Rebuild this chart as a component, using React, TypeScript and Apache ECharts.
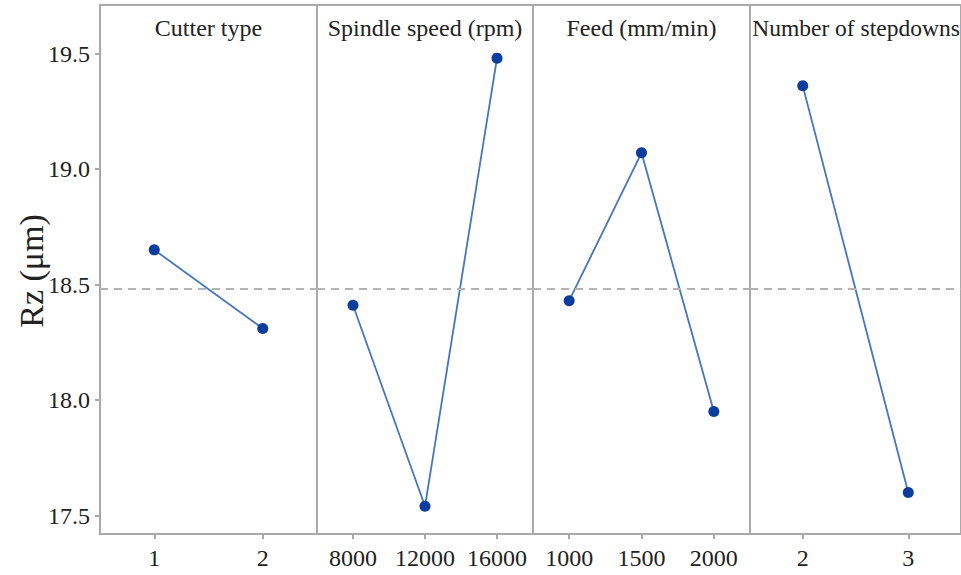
import React, { useEffect, useRef } from "react";
import * as echarts from "echarts";

const panelTitles = ["Cutter type", "Spindle speed (rpm)", "Feed (mm/min)", "Number of stepdowns"];
const cutterLevels = ["1", "2"];
const cutterRz = [18.65, 18.31];
const spindleLevels = ["8000", "12000", "16000"];
const spindleRz = [18.41, 17.54, 19.48];
const feedLevels = ["1000", "1500", "2000"];
const feedRz = [18.43, 19.07, 17.95];
const stepLevels = ["2", "3"];
const stepRz = [19.36, 17.6];
const yTicks = [17.5, 18.0, 18.5, 19.0, 19.5];
const grandMean = 18.48;

const levelsList = [cutterLevels, spindleLevels, feedLevels, stepLevels];
const valuesList = [cutterRz, spindleRz, feedRz, stepRz];

const gridLefts = [100, 317, 533, 750];
const gridWidths = [217, 216, 217, 217];
const FONT = "'Liberation Serif', 'Times New Roman', serif";
const BORDER = "#a9a9a9";

export default function App() {
  const ref = useRef<HTMLDivElement>(null);
  useEffect(() => {
    document.body.style.margin = "0";
    const chart = echarts.init(ref.current!, null, { renderer: "svg" });
    const grids = gridLefts.map((l, i) => ({
      left: l,
      top: 5,
      width: gridWidths[i],
      height: 529,
      show: true,
      borderColor: BORDER,
      borderWidth: 2,
      backgroundColor: "transparent",
      containLabel: false,
    }));
    const xAxes = levelsList.map((lv, i) => ({
      type: "category",
      gridIndex: i,
      data: lv,
      boundaryGap: true,
      axisLine: { show: false },
      axisTick: { show: true, alignWithLabel: true, interval: 0, length: 5, lineStyle: { color: BORDER, width: 2 } },
      axisLabel: { interval: 0, hideOverlap: false, fontSize: 24, fontFamily: FONT, color: "#222", margin: 12 },
      splitLine: { show: false },
    }));
    const yAxes = levelsList.map((_, i) => ({
      type: "value",
      gridIndex: i,
      min: 17.42,
      max: 19.71,
      show: i === 0,
      axisLine: { show: i === 0, lineStyle: { color: BORDER, width: 2 } },
      axisTick: { show: i === 0, length: 5, lineStyle: { color: BORDER, width: 2 }, customValues: yTicks },
      axisLabel: {
        show: i === 0,
        customValues: yTicks,
        fontSize: 24,
        fontFamily: FONT,
        color: "#222",
        margin: 10,
        formatter: (v: number) => v.toFixed(1),
      },
      splitLine: { show: false },
    }));
    const series = valuesList.map((vals, i) => ({
      type: "line",
      xAxisIndex: i,
      yAxisIndex: i,
      data: vals,
      symbol: "circle",
      symbolSize: 11,
      itemStyle: { color: "#0b3d9e" },
      lineStyle: { color: "#4477bb", width: 1.8 },
      markLine: {
        silent: true,
        symbol: "none",
        label: { show: false },
        lineStyle: { color: "#b3b3b3", type: [8, 6], width: 2 },
        data: [{ yAxis: grandMean }],
      },
      z: 3,
    }));
    const graphic: any[] = panelTitles.map((t, i) => ({
      type: "text",
      x: i === 3 ? 856 : gridLefts[i] + gridWidths[i] / 2,
      y: 28,
      style: {
        text: t,
        fontSize: i === 3 ? 23.5 : 24,
        fontFamily: FONT,
        fill: "#222",
        textAlign: "center",
        textVerticalAlign: "middle",
      },
    }));
    graphic.push({
      type: "text",
      x: 31,
      y: 271,
      rotation: Math.PI / 2,
      style: {
        text: "Rz (μm)",
        fontSize: 34,
        fontFamily: FONT,
        fill: "#222",
        textAlign: "center",
        textVerticalAlign: "middle",
      },
    });
    chart.setOption({
      animation: false,
      backgroundColor: "#ffffff",
      grid: grids,
      xAxis: xAxes,
      yAxis: yAxes,
      series,
      graphic,
    });
    return () => chart.dispose();
  }, []);
  return (
    <div
      ref={ref}
      style={{ width: 961, height: 575, position: "absolute", left: 0, top: 0 }}
    />
  );
}
